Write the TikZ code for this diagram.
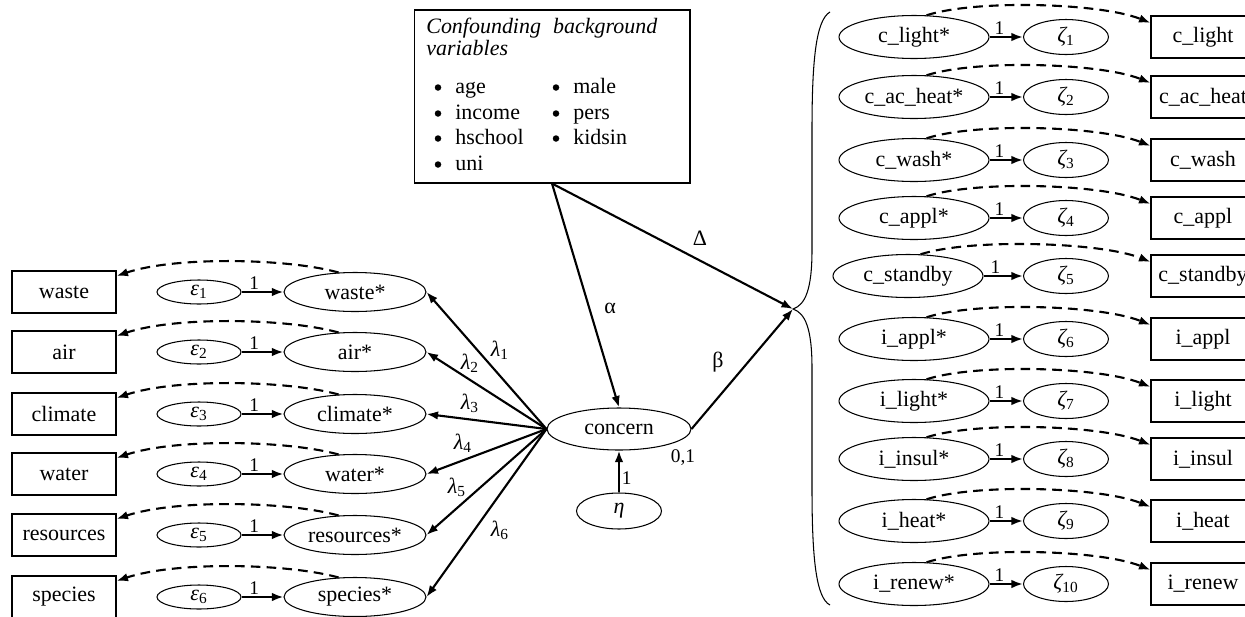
\documentclass[tikz,border=0pt]{standalone}
\usepackage{fontspec}
\setmainfont{Liberation Serif}
\usetikzlibrary{arrows.meta,shapes.geometric}
\newcommand{\gsub}[2]{{\itshape #1}\textsubscript{#2}}
\begin{document}
\begin{tikzpicture}[x=0.02cm,y=-0.02cm,
  font=\fontsize{12.5}{15}\selectfont,
  obs/.style={draw,line width=0.6pt,minimum width=2.08cm,minimum height=0.84cm,inner sep=0pt},
  err/.style={draw,ellipse,line width=0.6pt,minimum width=1.68cm,minimum height=0.48cm,inner sep=0pt},
  latL/.style={draw,ellipse,line width=0.6pt,minimum width=2.84cm,minimum height=0.78cm,inner sep=0pt},
  latR/.style={draw,ellipse,line width=0.6pt,minimum width=3.0cm,minimum height=0.86cm,inner sep=0pt},
  zet/.style={draw,ellipse,line width=0.6pt,minimum width=1.7cm,minimum height=0.7cm,inner sep=0pt},
  solidarrow/.style={-{Latex[length=2.3mm,width=1.7mm]},line width=1.2pt},
  dasharrow/.style={-{Latex[length=2.3mm,width=1.7mm]},line width=1.2pt,dash pattern=on 5.5pt off 3.5pt},
  lab/.style={font=\fontsize{11}{13}\selectfont,inner sep=1pt},
  item/.style={anchor=base west,inner sep=0pt},
  bul/.style={circle,fill,inner sep=0pt,minimum size=0.13cm},
]
\useasboundingbox (0,0) rectangle (1245,616);

% confounding box
\node[draw,line width=0.6pt,minimum width=5.52cm,minimum height=3.46cm,inner sep=0pt] (conf) at (552,96.5) {};
\node[item,font=\fontsize{12.5}{15}\selectfont\itshape] (t1) at (426,33) {Confounding\hspace{0.55em}background};
\node[item,font=\fontsize{12.5}{15}\selectfont\itshape] (t2) at (426,55) {variables};
\foreach \j/\bx/\by/\txt in {1/438/93/age,2/438/119/income,3/438/144/hschool,4/438/170/uni,
                             5/556/93/male,6/556/119/pers,7/556/144/kidsin} {
  \node[bul] (d\j) at (\bx,\by-5.5) {};
  \node[item] (b\j) at (\bx+17,\by) {\txt};
}

% concern and eta
\node[draw,ellipse,line width=0.6pt,minimum width=2.88cm,minimum height=0.84cm,inner sep=0pt] (concern) at (619,429) {concern};
\node[zet,minimum height=0.72cm] (eta) at (619,511) {{\itshape η}};
\draw[solidarrow] (eta.north) -- node[lab,right,pos=0.35] (l1eta) {1} (concern.south);
\node[lab] (l01) at (683,458) {0,1};

% brace
\coordinate (bp) at (793,309);
\draw[line width=0.6pt] (830,12) .. controls (816,20) and (812,60) .. (812,130) -- (812,250)
  .. controls (812,290) and (805,305) .. (bp)
  .. controls (805,313) and (812,328) .. (812,368) -- (812,488)
  .. controls (812,558) and (816,598) .. (830,605);

\draw[solidarrow] (conf.south) -- (concern.north);
\draw[solidarrow] (conf.south) -- (bp);
\draw[solidarrow] (concern.east) -- (bp);
\node[lab,font=\fontsize{12.5}{15}\selectfont] (la) at (610,308) {α};
\node[lab,font=\fontsize{12.5}{15}\selectfont] (ld) at (700,238) {Δ};
\node[lab,font=\fontsize{12.5}{15}\selectfont] (lb) at (718,362) {β};

% left side
\foreach \i/\y/\name in {1/292/waste,2/352/air,3/414/climate,4/474/water,5/535/resources,6/597/species} {
  \node[obs] (o\i) at (64,\y) {\name};
  \node[err] (e\i) at (199,\y) {\gsub{ε}{\i}};
  \node[latL] (l\i) at (355,\y) {\name*};
  \draw[solidarrow] (e\i) -- node[lab,pos=0.3,above] {1} (l\i);
  \draw[dasharrow] (l\i.130) .. controls +(-50,-14) and +(60,-20) .. (o\i.17);
  \draw[solidarrow] (concern.west) -- (l\i.east);
}
\node[lab,font=\fontsize{12.5}{15}\selectfont] (lam1) at (500,350) {\gsub{λ}{1}};
\node[lab,font=\fontsize{12.5}{15}\selectfont] (lam2) at (470,363) {\gsub{λ}{2}};
\node[lab,font=\fontsize{12.5}{15}\selectfont] (lam3) at (470,403) {\gsub{λ}{3}};
\node[lab,font=\fontsize{12.5}{15}\selectfont] (lam4) at (463,443) {\gsub{λ}{4}};
\node[lab,font=\fontsize{12.5}{15}\selectfont] (lam5) at (457,487) {\gsub{λ}{5}};
\node[lab,font=\fontsize{12.5}{15}\selectfont] (lam6) at (500,530) {\gsub{λ}{6}};

% right side
\foreach \i/\y/\lname/\oname/\cx in {
  1/37/c\_light*/c\_light/914,
  2/97/c\_ac\_heat*/c\_ac\_heat/914,
  3/160/c\_wash*/c\_wash/914,
  4/218/c\_appl*/c\_appl/914,
  5/276/c\_standby/c\_standby/908,
  6/339/i\_appl*/i\_appl/914,
  7/401/i\_light*/i\_light/914,
  8/459/i\_insul*/i\_insul/914,
  9/521/i\_heat*/i\_heat/914,
  10/584/i\_renew*/i\_renew/914} {
  \node[latR] (r\i) at (\cx,\y) {\lname};
  \node[zet] (z\i) at (1066,\y) {\gsub{ζ}{\i}};
  \node[obs] (q\i) at (1203,\y) {\oname};
  \draw[solidarrow] (r\i) -- node[lab,pos=0.3,above] {1} (z\i);
  \draw[dasharrow] (r\i.60) .. controls +(50,-16) and +(-50,-20) .. (q\i.165);
}
\end{tikzpicture}
\end{document}
